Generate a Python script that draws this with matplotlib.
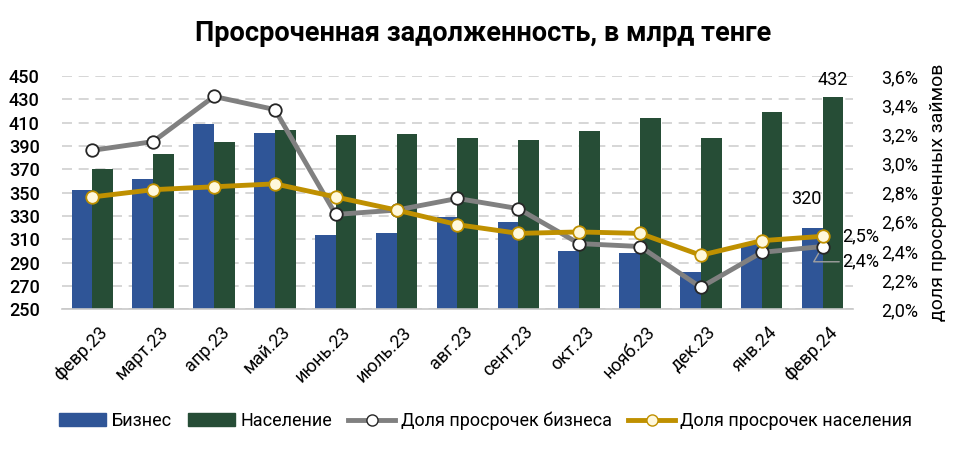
import numpy as np
import matplotlib.pyplot as plt
import matplotlib.transforms as mtransforms
from matplotlib.lines import Line2D
from matplotlib.patches import Patch

plt.rcParams['font.family'] = ['Roboto', 'DejaVu Sans']

months = ["февр.23", "март.23", "апр.23", "май.23", "июнь.23", "июль.23", "авг.23",
          "сент.23", "окт.23", "нояб.23", "дек.23", "янв.24", "февр.24"]
business = [352, 362, 409, 401, 314, 315, 329, 325, 300, 298, 282, 306, 320]
population = [370, 383, 393, 404, 399, 400, 397, 395, 403, 414, 397, 419, 432]
share_business = [3.09, 3.15, 3.46, 3.37, 2.65, 2.68, 2.76, 2.69, 2.45, 2.43, 2.15, 2.39, 2.43]
share_population = [2.77, 2.82, 2.84, 2.86, 2.77, 2.68, 2.58, 2.52, 2.53, 2.52, 2.37, 2.47, 2.50]

BLUE = "#2F5597"
GREEN = "#264D36"
GRAY = "#808080"
GOLD = "#BF9000"

fig = plt.figure(figsize=(9.66, 4.5), dpi=100)
ax = fig.add_axes([0.064, 0.313, 0.819, 0.518])
ax2 = ax.twinx()

x = np.arange(len(months))
w = 0.34
ax.bar(x - w / 2, business, w, color=BLUE, zorder=2)
ax.bar(x + w / 2, population, w, color=GREEN, zorder=2)

ax.set_ylim(250, 450)
ax.set_yticks(np.arange(250, 451, 20))
ax.set_xlim(-0.5, len(months) - 0.5)
ax.grid(axis='y', color='#d0d0d0', linestyle=(0, (6, 4)), linewidth=1.2, zorder=0)
ax.set_axisbelow(True)
for s in ['top', 'right', 'left']:
    ax.spines[s].set_visible(False)
ax.spines['bottom'].set_color('#c8c8c8')
ax.spines['bottom'].set_linewidth(1.2)
ax.tick_params(axis='y', length=0, labelsize=13, pad=16)
ax.tick_params(axis='x', length=0, labelsize=13, pad=10)
ax.set_xticks(x)
ax.set_xticklabels(months, rotation=45, ha='right', rotation_mode='anchor')
shift = mtransforms.ScaledTranslation(6 / 100, 0, fig.dpi_scale_trans)
for lbl in ax.get_xticklabels():
    lbl.set_transform(lbl.get_transform() + shift)
for lbl in ax.get_yticklabels():
    lbl.set_fontweight('medium')

ax2.plot(x, share_business, color=GRAY, linewidth=3.5, marker='o', markersize=9,
         markerfacecolor='white', markeredgecolor='#262626', markeredgewidth=1.3, zorder=4)
ax2.plot(x, share_population, color=GOLD, linewidth=3.5, marker='o', markersize=9,
         markerfacecolor='#FFF8DC', markeredgecolor=GOLD, markeredgewidth=1.3, zorder=5)
ax2.set_ylim(2.0, 3.6)
ax2.set_yticks(np.arange(2.0, 3.61, 0.2))
ax2.set_yticklabels([f"{v:.1f}%".replace('.', ',') for v in np.arange(2.0, 3.61, 0.2)])
for s in ax2.spines.values():
    s.set_visible(False)
ax2.tick_params(axis='y', length=0, labelsize=13, pad=20)
ax2.set_ylabel("доля просроченных займов", fontsize=14, labelpad=8)
ax.set_zorder(1)
ax2.set_zorder(2)
ax2.patch.set_visible(False)

# data labels on the last month
ax.annotate(str(population[-1]), (x[-1] + w / 2, population[-1]), xytext=(0, 6),
            textcoords='offset points', ha='center', va='bottom', fontsize=13)
ax.annotate(str(business[-1]), (x[-1] - w / 2, business[-1]), xytext=(-4, 14),
            textcoords='offset points', ha='center', va='bottom', fontsize=13)
ax2.annotate("2,5%", (x[-1], share_population[-1]), xytext=(14, 0),
             textcoords='offset points', ha='left', va='center', fontsize=13)
ax2.annotate("2,4%", (x[-1], share_business[-1]), xytext=(14, -11),
             textcoords='offset points', ha='left', va='center', fontsize=13,
             arrowprops=dict(arrowstyle='-', color='#a0a0a0', lw=1,
                             connectionstyle='angle,angleA=0,angleB=60,rad=0',
                             shrinkA=0, shrinkB=4))

fig.suptitle("Просроченная задолженность, в млрд тенге", x=0.5, y=0.955,
             fontsize=19.5, fontweight='bold')

handles = [
    Patch(color=BLUE, label="Бизнес"),
    Patch(color=GREEN, label="Население"),
    Line2D([], [], color=GRAY, linewidth=3.5, marker='o', markersize=8,
           markerfacecolor='white', markeredgecolor='#262626', label="Доля просрочек бизнеса"),
    Line2D([], [], color=GOLD, linewidth=3.5, marker='o', markersize=8,
           markerfacecolor='#FFF8DC', markeredgecolor=GOLD, label="Доля просрочек населения"),
]
fig.legend(handles=handles, loc='center', bbox_to_anchor=(0.503, 0.065), ncol=4,
           frameon=False, fontsize=13, handlelength=2.6, columnspacing=0.9,
           handletextpad=0.3)

fig.savefig("out.png", dpi=100)
